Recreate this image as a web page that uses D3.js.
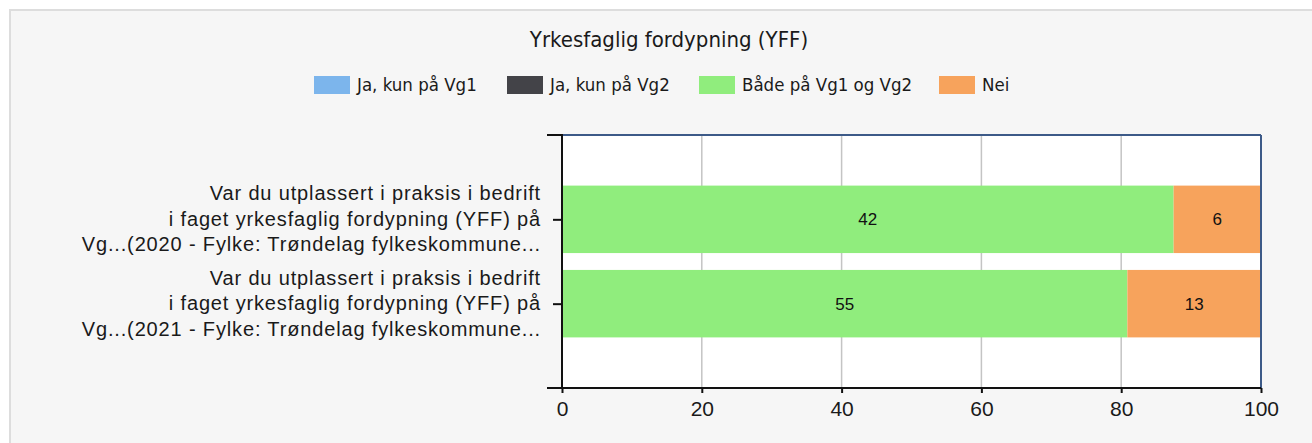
<!DOCTYPE html>
<html>
<head>
<meta charset="utf-8">
<script src="https://cdn.jsdelivr.net/npm/d3@7"></script>
<style>
  html, body { margin: 0; padding: 0; background: #ffffff; }
  svg { display: block; }
</style>
</head>
<body>
<svg id="chart" width="1312" height="443"></svg>
<script>
// ---- data ----
const title = "Yrkesfaglig fordypning (YFF)";
const categories = [
  ["Var du utplassert i praksis i bedrift", "i faget yrkesfaglig fordypning (YFF) på", "Vg...(2020 - Fylke: Trøndelag fylkeskommune..."],
  ["Var du utplassert i praksis i bedrift", "i faget yrkesfaglig fordypning (YFF) på", "Vg...(2021 - Fylke: Trøndelag fylkeskommune..."]
];
const seriesNames = ["Ja, kun på Vg1", "Ja, kun på Vg2", "Både på Vg1 og Vg2", "Nei"];
const seriesColors = ["#7cb5ec", "#434348", "#90ed7d", "#f7a35c"];
const jaKunVg1 = [0, 0];
const jaKunVg2 = [0, 0];
const baade = [42, 55];
const nei = [6, 13];
const xTicks = [0, 20, 40, 60, 80, 100];

// ---- layout ----
const svg = d3.select("#chart");
const W = 1312, H = 443;
const plot = { left: 562, right: 1261, top: 135, bottom: 388 };
const condensed = "'DejaVu Sans Condensed', 'DejaVu Sans', sans-serif";
const sans = "'Liberation Sans', Arial, sans-serif";

// panel
svg.append("rect").attr("x", 0).attr("y", 0).attr("width", W).attr("height", H).attr("fill", "#ffffff");
svg.append("rect").attr("x", 10).attr("y", 10).attr("width", W + 10).attr("height", H + 10)
  .attr("fill", "#f6f6f6").attr("stroke", "#dddddd").attr("stroke-width", 2);

// title
svg.append("text").attr("x", 669).attr("y", 47)
  .attr("text-anchor", "middle")
  .style("font-family", condensed).style("font-stretch", "condensed")
  .style("font-size", "22px").attr("fill", "#1a1a1a")
  .text(title);

// legend
const legendX = [314, 507, 699, 939];
const leg = svg.append("g");
seriesNames.forEach((n, i) => {
  leg.append("rect").attr("x", legendX[i]).attr("y", 76).attr("width", 36).attr("height", 18)
    .attr("fill", seriesColors[i]);
  leg.append("text").attr("x", legendX[i] + 43).attr("y", 91)
    .style("font-family", condensed).style("font-stretch", "condensed")
    .style("font-size", "18.5px").attr("fill", "#1a1a1a").text(n);
});

// scales
const idx = categories.map((d, i) => i);
const x = d3.scaleLinear().domain([0, 100]).range([plot.left, plot.right]);
const y = d3.scalePoint().domain(idx).range([plot.top, plot.bottom]).padding(1);
const barH = y.step() * 0.8;

// plot background
svg.append("rect").attr("x", plot.left).attr("y", plot.top)
  .attr("width", plot.right - plot.left).attr("height", plot.bottom - plot.top).attr("fill", "#ffffff");

// grid
svg.append("g").selectAll("line").data(xTicks.slice(1, -1)).join("line")
  .attr("x1", d => x(d)).attr("x2", d => x(d))
  .attr("y1", plot.top).attr("y2", plot.bottom)
  .attr("stroke", "#c4c4c4").attr("stroke-width", 1.5);

// stacked data (percent)
const rows = idx.map(i => ({ i, v: [jaKunVg1[i], jaKunVg2[i], baade[i], nei[i]] }));
const segs = [];
rows.forEach(r => {
  const total = d3.sum(r.v);
  let acc = 0;
  r.v.forEach((val, s) => {
    const p0 = acc / total * 100;
    acc += val;
    const p1 = acc / total * 100;
    if (val > 0) segs.push({ i: r.i, s, val, p0, p1 });
  });
});

svg.append("g").selectAll("rect").data(segs).join("rect")
  .attr("x", d => x(d.p0)).attr("width", d => x(d.p1) - x(d.p0))
  .attr("y", d => y(d.i) - barH / 2).attr("height", barH)
  .attr("fill", d => seriesColors[d.s]);

svg.append("g").selectAll("text").data(segs).join("text")
  .attr("x", d => (x(d.p0) + x(d.p1)) / 2).attr("y", d => y(d.i))
  .attr("dy", "0.36em").attr("text-anchor", "middle")
  .style("font-family", sans)
  .style("font-size", "17px").attr("fill", "#111")
  .text(d => d.val);

// frame top/right
svg.append("line").attr("x1", plot.left).attr("x2", plot.right).attr("y1", plot.top).attr("y2", plot.top)
  .attr("stroke", "#3d5a88").attr("stroke-width", 2);
svg.append("line").attr("x1", plot.right).attr("x2", plot.right).attr("y1", plot.top).attr("y2", plot.bottom)
  .attr("stroke", "#3d5a88").attr("stroke-width", 2);

// bottom axis
const xAxis = d3.axisBottom(x).tickValues(xTicks).tickSize(5).tickPadding(8).tickFormat(d3.format("d"));
const gx = svg.append("g").attr("transform", `translate(0,${plot.bottom})`).call(xAxis);
gx.select(".domain").attr("stroke", "#111").attr("stroke-width", 2).attr("d", `M${plot.left - 15},0H${plot.right}`);
gx.selectAll(".tick line").attr("stroke", "#111").attr("stroke-width", 2);
gx.selectAll(".tick text").style("font-family", sans)
  .style("font-size", "21px").attr("fill", "#1a1a1a");

// left axis
const yAxis = d3.axisLeft(y).tickSize(9).tickPadding(3).tickFormat("");
const gy = svg.append("g").attr("transform", `translate(${plot.left},0)`).call(yAxis);
gy.select(".domain").attr("stroke", "#111").attr("stroke-width", 2).attr("d", `M0,${plot.top - 1}V${plot.bottom}`);
gy.selectAll(".tick line").attr("stroke", "#111").attr("stroke-width", 2);
// end tick at top
svg.append("line").attr("x1", plot.left - 15).attr("x2", plot.left).attr("y1", plot.top).attr("y2", plot.top)
  .attr("stroke", "#111").attr("stroke-width", 2);

// category labels
const lineH = 25.5;
gy.selectAll(".tick").each(function(d) {
  const lines = categories[d];
  const t = d3.select(this).append("text")
    .attr("x", -21).attr("text-anchor", "end")
    .style("font-family", sans)
    .style("font-size", "20px").style("letter-spacing", "0.85px").attr("fill", "#1a1a1a");
  lines.forEach((ln, k) => {
    t.append("tspan").attr("x", -21).attr("y", (k - 1) * lineH - 1).attr("dy", "0.35em").text(ln);
  });
});
</script>
</body>
</html>
